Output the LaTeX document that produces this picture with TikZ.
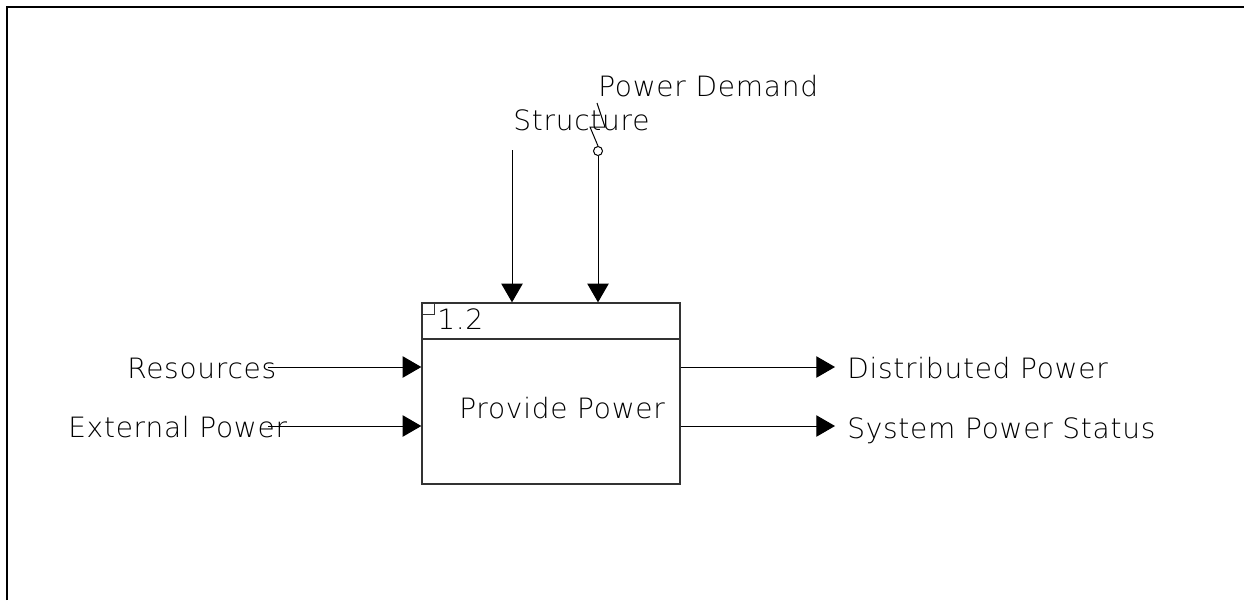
\documentclass[tikz,border=0pt]{standalone}
\usepackage{fontspec}
\setmainfont{DejaVu Sans ExtraLight}[LetterSpace=2.7]
\usetikzlibrary{arrows.meta}
\tikzset{
  flow/.style={-{Triangle[length=14pt,width=16pt]},line width=0.75pt},
  lab/.style={font=\fontsize{21}{25}\selectfont,inner sep=0pt},
  actbox/.style={draw=black!80,line width=1pt,minimum width=193.5pt,
                 minimum height=135.75pt,inner sep=0pt},
  tunnel/.style={draw,circle,line width=0.75pt,minimum size=6.75pt,inner sep=0pt},
}

\begin{document}
\begin{tikzpicture}[x=0.75pt,y=-0.75pt]
  \path[use as bounding box] (0,0) rectangle (1244,600);
  \draw[line width=1.5pt] (7,600) -- (7,7) -- (1244,7);

  % activity box
  \node[actbox] (pp) at (551,393.5) {};
  \draw[black!80,line width=1pt] (pp.west |- 0,339) -- (pp.east |- 0,339);
  \draw[black!80,line width=0.75pt] (pp.north west) rectangle ++(13,12);
  \node[lab,anchor=base west] (num) at (437,329) {1.2};
  \node[lab,anchor=base west] (name) at (459,418) {Provide Power};

  % inputs
  \node[lab,anchor=base west] (res) at (127,378) {Resources};
  \node[lab,anchor=base west] (ext) at (68,437) {External Power};
  \coordinate (resin) at (268,367);
  \coordinate (extin) at (268,426);
  \draw[flow] (resin) -- (pp.west |- resin);
  \draw[flow] (extin) -- (pp.west |- extin);

  % outputs
  \node[lab,anchor=base west] (dist) at (847,378) {Distributed Power};
  \node[lab,anchor=base west] (stat) at (847,438) {System Power Status};
  \coordinate (distout) at (835,367);
  \coordinate (statout) at (835,426);
  \draw[flow] (pp.east |- distout) -- (distout);
  \draw[flow] (pp.east |- statout) -- (statout);

  % controls
  \node[lab,anchor=base west] (str) at (513,130) {Structure};
  \node[lab,anchor=base west] (dem) at (598,96) {Power Demand};
  \coordinate (strin) at (512,150);
  \draw[flow] (strin) -- (strin |- pp.north);
  \node[tunnel] (tun) at (598,151) {};
  \draw[flow] (tun.south) -- (tun.south |- pp.north);
  \coordinate (sq1) at (590,127);
  \coordinate (sq2) at (605,127);
  \coordinate (sq3) at (597,103);
  \draw[line width=0.75pt] (tun.north) -- (sq1) -- (sq2) -- (sq3);
\end{tikzpicture}
\end{document}
